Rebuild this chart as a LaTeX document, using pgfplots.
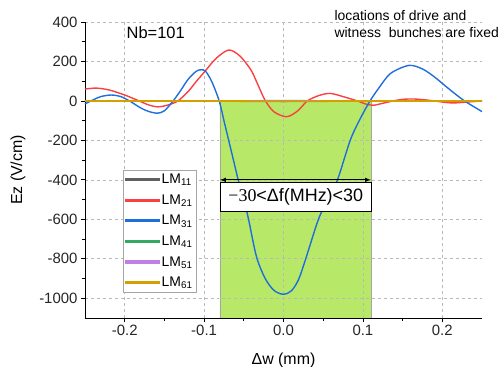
\documentclass[border=0pt]{standalone}
\usepackage{pgfplots}
\pgfplotsset{compat=1.18}
\usepackage{fontspec}
\setmainfont{Liberation Sans}
\newfontfamily\serifx{Liberation Serif}
\definecolor{cLMa}{RGB}{96,96,96}
\definecolor{cLMb}{RGB}{250,64,64}
\definecolor{cLMc}{RGB}{30,110,220}
\definecolor{cLMd}{RGB}{50,170,100}
\definecolor{cLMe}{RGB}{190,128,230}
\definecolor{cLMf}{RGB}{212,160,0}
\definecolor{cGreen}{RGB}{184,232,104}
\begin{document}
\begin{tikzpicture}
\begin{axis}[
  set layers=standard,
  scale only axis, width=397bp, height=296bp,
  at={(0,0)}, anchor=south west,
  xmin=-0.25, xmax=0.25, ymin=-1100, ymax=400,
  axis lines=left, axis line style={-, line width=1pt},
  tick align=outside,
  major tick length=4bp, minor tick length=2.5bp,
  every tick/.style={black, line width=0.8pt},
  xtick={-0.2,-0.1,0,0.1,0.2}, minor x tick num=1,
  ytick={-1000,-800,-600,-400,-200,0,200,400}, minor y tick num=1,
  xticklabel style={/pgf/number format/.cd, fixed, fixed zerofill, precision=1},
  /pgf/number format/assume math mode=true,
  /pgf/number format/1000 sep={},
  ticklabel style={font=\fontsize{15}{17}\selectfont, text=black!85},
  grid=major, major grid style={gray!55, dashed, line width=0.7pt},
  xlabel={Δw (mm)}, ylabel={Ez (V/cm)},
  label style={font=\fontsize{16}{18}\selectfont},
  xlabel style={at={(axis description cs:0.5,0)}, anchor=center, yshift=-42bp},
  ylabel style={at={(axis description cs:-0.169,0.5)}, anchor=center},
  clip=false,
  legend style={at={(rel axis cs:0.095,0.5)}, anchor=north west, draw=gray!70,
     font=\fontsize{14}{16}\selectfont, row sep=5.5bp, inner sep=2bp},
  legend cell align=left,
  legend image code/.code={\fill[#1] (0bp,-0.9bp) rectangle (33bp,0.9bp);},
]
% green band
\addplot[on layer=axis background, fill=cGreen, draw=gray!70, line width=0.5pt, forget plot]
  coordinates {(-0.08,-1100) (-0.08,0) (0.11,0) (0.11,-1100) (-0.08,-1100)};

\addplot[cLMa, line width=1.4pt] coordinates {(-0.25,0) (-0.1,1) (0,-2) (0.1,1) (0.25,0)};
\addlegendentry{LM\textsubscript{11}}
\addplot[cLMb, line width=1.4pt, smooth] coordinates {
(-0.25,60) (-0.236,65) (-0.22,56) (-0.2,30) (-0.183,2) (-0.17,-20) (-0.158,-30) (-0.145,-20)
(-0.133,0) (-0.12,48) (-0.11,98) (-0.1,145) (-0.085,215) (-0.069,258) (-0.055,228) (-0.041,157)
(-0.032,80) (-0.023,2) (-0.012,-55) (0.004,-80) (0.018,-50) (0.030,0) (0.045,28) (0.059,38)
(0.075,22) (0.093,0) (0.103,-15) (0.113,-22) (0.125,-12) (0.138,0) (0.15,8) (0.163,10)
(0.177,6) (0.19,0) (0.205,-8) (0.215,-10) (0.23,-6) (0.25,0)};
\addlegendentry{LM\textsubscript{21}}
\addplot[cLMc, line width=1.4pt, smooth] coordinates {
(-0.25,-15) (-0.24,5) (-0.23,22) (-0.217,30) (-0.205,22) (-0.194,0) (-0.18,-35) (-0.17,-53)
(-0.159,-62) (-0.15,-50) (-0.139,0) (-0.13,50) (-0.12,110) (-0.11,150) (-0.104,158) (-0.098,150)
(-0.09,95) (-0.081,0) (-0.075,-100) (-0.069,-200) (-0.063,-300) (-0.057,-400) (-0.05,-500)
(-0.044,-600) (-0.034,-790) (-0.023,-900) (-0.012,-960) (0.0,-980) (0.01,-962) (0.019,-905)
(0.028,-800) (0.044,-600) (0.056,-500) (0.068,-400) (0.084,-200) (0.096,-95) (0.109,0)
(0.12,65) (0.135,140) (0.158,180) (0.175,162) (0.19,122) (0.205,72) (0.218,30) (0.228,0)
(0.24,-30) (0.25,-54)};
\addlegendentry{LM\textsubscript{31}}
\addplot[cLMd, line width=1.4pt] coordinates {(-0.25,0) (-0.1,-1) (0,2) (0.1,-1) (0.25,0)};
\addlegendentry{LM\textsubscript{41}}
\addplot[cLMe, line width=1.4pt] coordinates {(-0.25,0) (-0.1,1) (0,0) (0.1,1) (0.25,0)};
\addlegendentry{LM\textsubscript{51}}
\addplot[cLMf, line width=1.8pt] coordinates {(-0.25,0) (-0.1,0) (0,-2) (0.1,0) (0.25,0)};
\addlegendentry{LM\textsubscript{61}}

\addplot[black, line width=1pt, <->, >=latex, forget plot] coordinates {(-0.08,-400) (0.11,-400)};
\node[draw=black, fill=white, anchor=north west, minimum width=151bp, minimum height=29bp,
  inner sep=1bp, line width=0.6pt, font=\fontsize{18}{20}\selectfont]
  at (axis cs:-0.08,-410) {{\serifx −30}<Δf(MHz)<30};
\node[font=\fontsize{16.5}{18}\selectfont] at (axis cs:-0.161,345) {Nb=101};
\node[anchor=north west, align=left, inner sep=0pt, font=\fontsize{14}{17}\selectfont]
  at (axis cs:0.064,458) {locations of drive and\\witness\ \ bunches are fixed};
\end{axis}
\pgfresetboundingbox
\path[use as bounding box] (-85bp,-49bp) rectangle (419bp,318bp);
\end{tikzpicture}
\end{document}
